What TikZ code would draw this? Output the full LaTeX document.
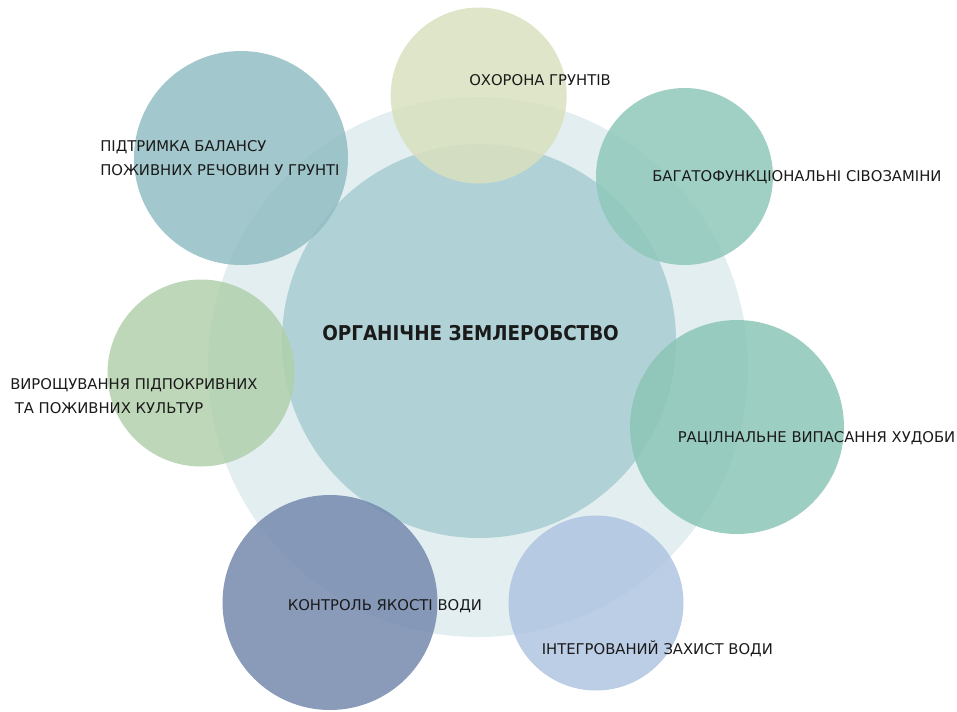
\documentclass[tikz,border=0pt]{standalone}
\usepackage{fontspec}
\setmainfont{DejaVu Sans}
\newfontfamily\titlefont[FakeStretch=0.9]{DejaVu Sans}
\definecolor{ringc}{RGB}{226,238,240}
\definecolor{centc}{RGB}{176,210,215}
\definecolor{topc}{RGB}{217,224,190}
\definecolor{tlc}{RGB}{146,189,195}
\definecolor{trc}{RGB}{143,200,186}
\definecolor{lc}{RGB}{177,208,172}
\definecolor{rc}{RGB}{140,198,183}
\definecolor{blc}{RGB}{117,138,174}
\definecolor{brc}{RGB}{176,196,226}
\definecolor{txt}{RGB}{26,26,26}
\begin{document}
\begin{tikzpicture}[x=0.75pt,y=-0.75pt,
  disc/.style={circle,inner sep=0pt,draw=none,minimum size=#1*0.75pt},
  lab/.style={anchor=base west,inner sep=0pt,text=txt,font=\fontsize{11.1pt}{13pt}\selectfont},
  sat/.style={fill opacity=0.85}]
\useasboundingbox (0,0) rectangle (957,711);
\node[disc=540,fill=ringc] (ring) at (478,367) {};
\node[disc=394,fill=centc] (cent) at (479,341) {};
\node[disc=176,fill=topc,sat] (ctop) at (478.7,95.5) {};
\node[disc=214,fill=tlc,sat] (ctl) at (241,158) {};
\node[disc=177,fill=trc,sat] (ctr) at (684.5,176.5) {};
\node[disc=187,fill=lc,sat] (cl) at (201,373) {};
\node[disc=214,fill=rc,sat] (cr) at (737,427) {};
\node[disc=215,fill=blc,sat] (cbl) at (330,602.5) {};
\node[disc=175,fill=brc,sat] (cbr) at (596,603) {};
\node[lab] (ttop) at (469,85) {ОХОРОНА ГРУНТІВ};
\node[lab] (ttl1) at (100,151.5) {ПІДТРИМКА БАЛАНСУ};
\node[lab] (ttl2) at (100,175) {ПОЖИВНИХ РЕЧОВИН У ГРУНТІ};
\node[lab] (ttr) at (652,181.5) {БАГАТОФУНКЦІОНАЛЬНІ СІВОЗАМІНИ};
\node[anchor=base west,inner sep=0pt,text=txt,font=\titlefont\bfseries\fontsize{15.3pt}{18pt}\selectfont] (tc) at (322,340) {ОРГАНІЧНЕ ЗЕМЛЕРОБСТВО};
\node[lab] (tl1) at (10,389.5) {ВИРОЩУВАННЯ ПІДПОКРИВНИХ};
\node[lab] (tl2) at (14.5,413) {ТА ПОЖИВНИХ КУЛЬТУР};
\node[lab] (tr) at (677.5,442.5) {РАЦІЛНАЛЬНЕ ВИПАСАННЯ ХУДОБИ};
\node[lab] (tbl) at (287.5,610) {КОНТРОЛЬ ЯКОСТІ ВОДИ};
\node[lab] (tbr) at (541.5,654) {ІНТЕГРОВАНИЙ ЗАХИСТ ВОДИ};
\end{tikzpicture}
\end{document}
